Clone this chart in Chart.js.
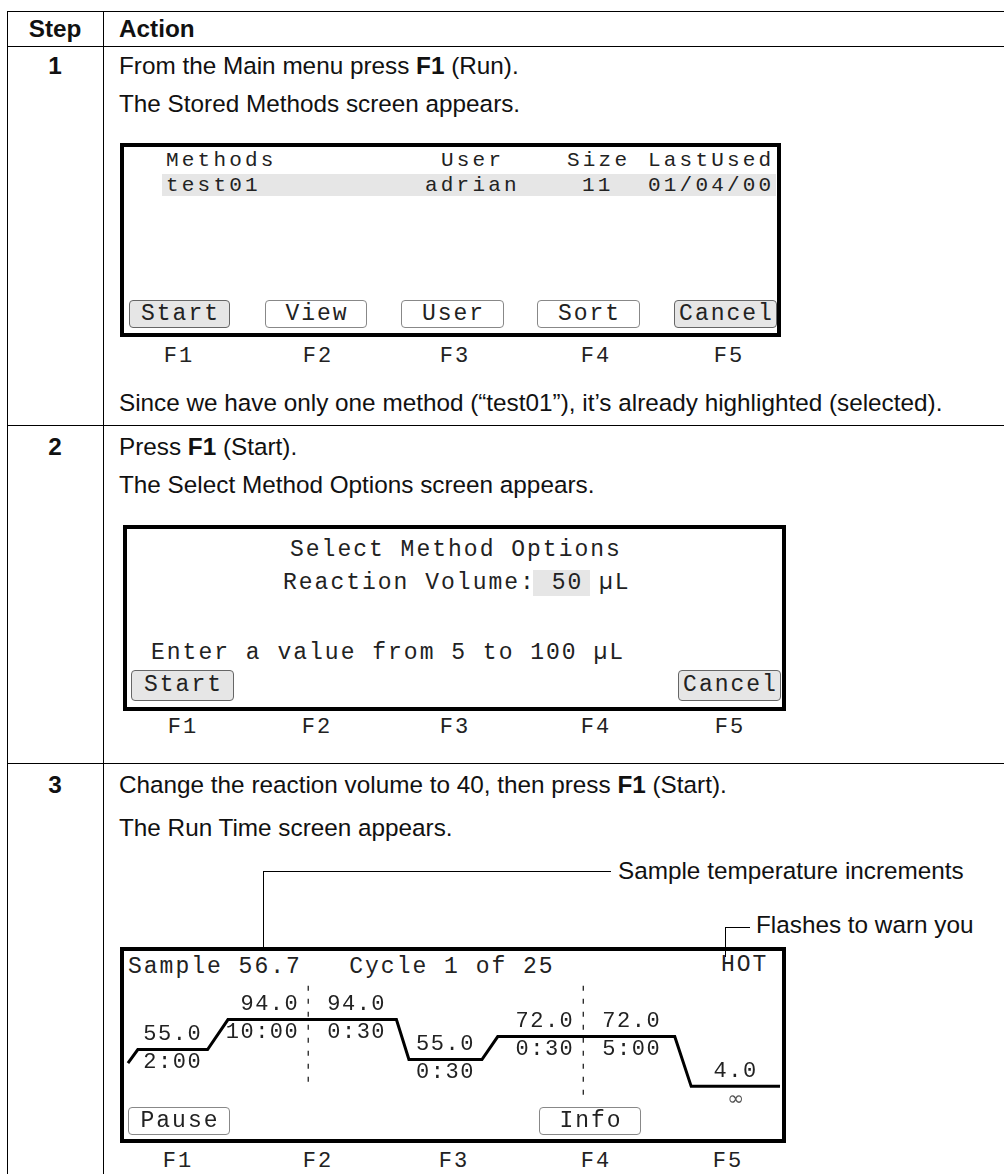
<!DOCTYPE html>
<html lang="en">
  <head>
    <meta charset="UTF-8" />
    <title>Run Time screen</title>
    <script src="https://cdn.jsdelivr.net/npm/chart.js@4/dist/chart.umd.min.js"></script>
    <style>
      html, body { margin: 0; padding: 0; background: #fff; }
      #page { position: relative; width: 1004px; height: 1174px; overflow: hidden;
              font-family: "Liberation Sans", Arial, sans-serif; color: #111; }
      .t { position: absolute; font-size: 24.3px; line-height: 30px; white-space: nowrap; }
      .num { position: absolute; left: 7px; width: 96px; text-align: center; font-weight: bold;
             font-size: 24.3px; line-height: 30px; }
      .hl { position: absolute; background: #000; }
      .vl { position: absolute; background: #000; width: 1px; }
      .box { position: absolute; border: 4px solid #000; box-sizing: border-box; }
      .m { position: absolute; font-family: "Liberation Mono", "Courier New", monospace;
           font-size: 23px; letter-spacing: 2px; line-height: 20px; white-space: pre; color: #222; }
      .m.list { font-size: 21px; letter-spacing: 3.2px; }
      .btn { position: absolute; box-sizing: border-box; border: 1px solid #888; border-radius: 4px;
             background: #fff; font-family: "Liberation Mono", monospace; font-size: 23px;
             letter-spacing: 2px; text-indent: 2px; text-align: center; color: #222; }
      .btn.on { background: #e6e6e6; border-color: #666; }
      .fk { position: absolute; width: 40px; text-align: center; font-family: "Liberation Mono", monospace;
            font-size: 22px; letter-spacing: 2px; text-indent: 2px; line-height: 24px; color: #222; }
      .shade { position: absolute; background: #e6e6e6; }
      canvas { position: absolute; }
    </style>
  </head>
  <body>
    <div id="page">
      <!-- table rules -->
      <div class="hl" style="left:7px; top:11px; width:997px; height:1px;"></div>
      <div class="hl" style="left:7px; top:46px; width:997px; height:1px;"></div>
      <div class="hl" style="left:7px; top:425px; width:997px; height:1px;"></div>
      <div class="hl" style="left:7px; top:763px; width:997px; height:1px;"></div>
      <div class="vl" style="left:7px; top:11px; height:1163px;"></div>
      <div class="vl" style="left:103px; top:11px; height:1163px;"></div>

      <div class="num" style="top:14px;">Step</div>
      <div class="t" style="left:119px; top:14px; font-weight:bold;">Action</div>

      <!-- step 1 -->
      <div class="num" style="top:51px;">1</div>
      <div class="t" style="left:119px; top:51px;">From the Main menu press <b>F1</b> (Run).</div>
      <div class="t" style="left:119px; top:89px;">The Stored Methods screen appears.</div>

      <div class="box" style="left:120px; top:143px; width:661px; height:194px;"></div>
      <div class="shade" style="left:162px; top:174px; width:614px; height:22px;"></div>
      <div class="m list" style="left:166px; top:151px;">Methods</div>
      <div class="m list" style="left:441px; top:151px;">User</div>
      <div class="m list" style="left:567px; top:151px;">Size</div>
      <div class="m list" style="left:648px; top:151px;">LastUsed</div>
      <div class="m list" style="left:166px; top:176px;">test01</div>
      <div class="m list" style="left:425px; top:176px;">adrian</div>
      <div class="m list" style="left:582px; top:176px;">11</div>
      <div class="m list" style="left:648px; top:176px;">01/04/00</div>
      <div class="btn on" style="left:129px; top:300px; width:101px; height:28px; line-height:26px;">Start</div>
      <div class="btn" style="left:265px; top:300px; width:102px; height:28px; line-height:26px;">View</div>
      <div class="btn" style="left:401px; top:300px; width:103px; height:28px; line-height:26px;">User</div>
      <div class="btn" style="left:537px; top:300px; width:103px; height:28px; line-height:26px;">Sort</div>
      <div class="btn on" style="left:674px; top:300px; width:103px; height:28px; line-height:26px;">Cancel</div>
      <div class="fk" style="left:158px; top:345px;">F1</div>
      <div class="fk" style="left:297px; top:345px;">F2</div>
      <div class="fk" style="left:434px; top:345px;">F3</div>
      <div class="fk" style="left:575px; top:345px;">F4</div>
      <div class="fk" style="left:708px; top:345px;">F5</div>
      <div class="t" style="left:119px; top:388px;">Since we have only one method (“test01”), it’s already highlighted (selected).</div>

      <!-- step 2 -->
      <div class="num" style="top:432px;">2</div>
      <div class="t" style="left:119px; top:432px;">Press <b>F1</b> (Start).</div>
      <div class="t" style="left:119px; top:470px;">The Select Method Options screen appears.</div>

      <div class="box" style="left:123px; top:525px; width:663px; height:186px;"></div>
      <div class="m" style="left:290px; top:540px;">Select Method Options</div>
      <div class="shade" style="left:533px; top:570px; width:57px; height:26px;"></div>
      <div class="m" style="left:283px; top:573px;">Reaction Volume: 50 µL</div>
      <div class="m" style="left:151px; top:643px;">Enter a value from 5 to 100 µL</div>
      <div class="btn on" style="left:131px; top:670px; width:103px; height:31px; line-height:29px;">Start</div>
      <div class="btn on" style="left:678px; top:670px; width:103px; height:31px; line-height:29px;">Cancel</div>
      <div class="fk" style="left:162px; top:716px;">F1</div>
      <div class="fk" style="left:296px; top:716px;">F2</div>
      <div class="fk" style="left:434px; top:716px;">F3</div>
      <div class="fk" style="left:575px; top:716px;">F4</div>
      <div class="fk" style="left:709px; top:716px;">F5</div>

      <!-- step 3 -->
      <div class="num" style="top:770px;">3</div>
      <div class="t" style="left:119px; top:770px;">Change the reaction volume to 40, then press <b>F1</b> (Start).</div>
      <div class="t" style="left:119px; top:813px;">The Run Time screen appears.</div>

      <div class="hl" style="left:263px; top:871px; width:348px; height:1px;"></div>
      <div class="vl" style="left:263px; top:871px; height:77px;"></div>
      <div class="t" style="left:618px; top:856px;">Sample temperature increments</div>
      <div class="hl" style="left:725px; top:927px; width:25px; height:1px;"></div>
      <div class="vl" style="left:725px; top:927px; height:30px;"></div>
      <div class="t" style="left:756px; top:910px;">Flashes to warn you</div>

      <div class="box" style="left:120px; top:947px; width:666px; height:196px;"></div>
      <div class="m" style="left:128px; top:957px;">Sample 56.7   Cycle 1 of 25</div>
      <div class="m" style="left:721px; top:955px;">HOT</div>
      <canvas id="profileChart" width="658" height="188" style="left:124px; top:951px; width:658px; height:188px;"></canvas>
      <div class="btn" style="left:128px; top:1107px; width:102px; height:28px; line-height:26px;">Pause</div>
      <div class="btn" style="left:539px; top:1107px; width:102px; height:28px; line-height:26px;">Info</div>
      <div class="fk" style="left:157px; top:1150px;">F1</div>
      <div class="fk" style="left:297px; top:1150px;">F2</div>
      <div class="fk" style="left:433px; top:1150px;">F3</div>
      <div class="fk" style="left:575px; top:1150px;">F4</div>
      <div class="fk" style="left:707px; top:1150px;">F5</div>
    </div>

    <script>
      // holds of the method, as shown on the Run Time screen
      const holdTemps = ['55.0', '94.0', '94.0', '55.0', '72.0', '72.0', '4.0'];
      const holdTimes = ['2:00', '10:00', '0:30', '0:30', '0:30', '5:00', '∞'];
      // where each hold is drawn, in % of screen width (x) and height (y, from the bottom)
      const holdStart = [2.1, 15.8, 28.0, 43.3, 56.8, 69.8, 86.2];
      const holdEnd = [12.7, 28.0, 41.4, 54.4, 69.8, 83.7, 99.7];
      const holdLevel = [47.6, 63.5, 63.5, 42.3, 54.5, 54.5, 28.0];
      const rampStart = [0.6, 40.4];
      // dashed marks between steps of the same temperature
      const stepMarks = [28.0, 69.8];
      const stepMarkTop = [81.5, 81.5];
      const stepMarkBottom = [30.2, 22.2];

      const profile = [{ x: rampStart[0], y: rampStart[1] }];
      holdStart.forEach((s, i) => {
        profile.push({ x: s, y: holdLevel[i] });
        profile.push({ x: holdEnd[i], y: holdLevel[i] });
      });

      const markSets = stepMarks.map((m, i) => ({
        data: [{ x: m, y: stepMarkTop[i] }, { x: m, y: stepMarkBottom[i] }],
        borderColor: '#222',
        borderWidth: 1.3,
        borderDash: [5, 8],
        pointRadius: 0
      }));

      // temperature above each hold, time below it
      const holdLabels = {
        id: 'holdLabels',
        afterDatasetsDraw(chart) {
          const { ctx, scales: { x, y } } = chart;
          ctx.save();
          ctx.fillStyle = '#222';
          ctx.textBaseline = 'middle';
          holdTemps.forEach((t, i) => {
            const x0 = x.getPixelForValue(holdStart[i]);
            const x1 = x.getPixelForValue(holdEnd[i]);
            const py = y.getPixelForValue(holdLevel[i]);
            const joinsNext = holdLevel[i + 1] === holdLevel[i] && holdStart[i + 1] === holdEnd[i];
            const joinsPrev = i > 0 && holdLevel[i - 1] === holdLevel[i] && holdEnd[i - 1] === holdStart[i];
            let tx = (x0 + x1) / 2;
            ctx.textAlign = 'center';
            if (joinsNext) { tx = x1 - 9; ctx.textAlign = 'right'; }
            else if (joinsPrev) { tx = x0 + 19; ctx.textAlign = 'left'; }
            ctx.letterSpacing = '1.5px';
            ctx.font = '22px "Liberation Mono"';
            ctx.fillText(t, tx, py - 15);
            if (holdTimes[i] === '∞') {
              ctx.letterSpacing = '0px';
              ctx.font = '20px "DejaVu Sans"';
              ctx.fillStyle = '#555';
            }
            ctx.fillText(holdTimes[i], tx, py + 13);
          });
          ctx.restore();
        }
      };

      const ctx = document.getElementById('profileChart').getContext('2d');
      new Chart(ctx, {
        type: 'line',
        data: {
          datasets: [{
            data: profile,
            borderColor: '#000',
            borderWidth: 3,
            pointRadius: 0,
            tension: 0,
            fill: false
          }].concat(markSets)
        },
        options: {
          responsive: false,
          animation: false,
          devicePixelRatio: 1,
          layout: { padding: 0 },
          plugins: { legend: { display: false }, tooltip: { enabled: false } },
          scales: {
            x: { type: 'linear', min: 0, max: 100, display: false },
            y: { type: 'linear', min: 0, max: 100, display: false }
          }
        },
        plugins: [holdLabels]
      });
    </script>
  </body>
</html>
